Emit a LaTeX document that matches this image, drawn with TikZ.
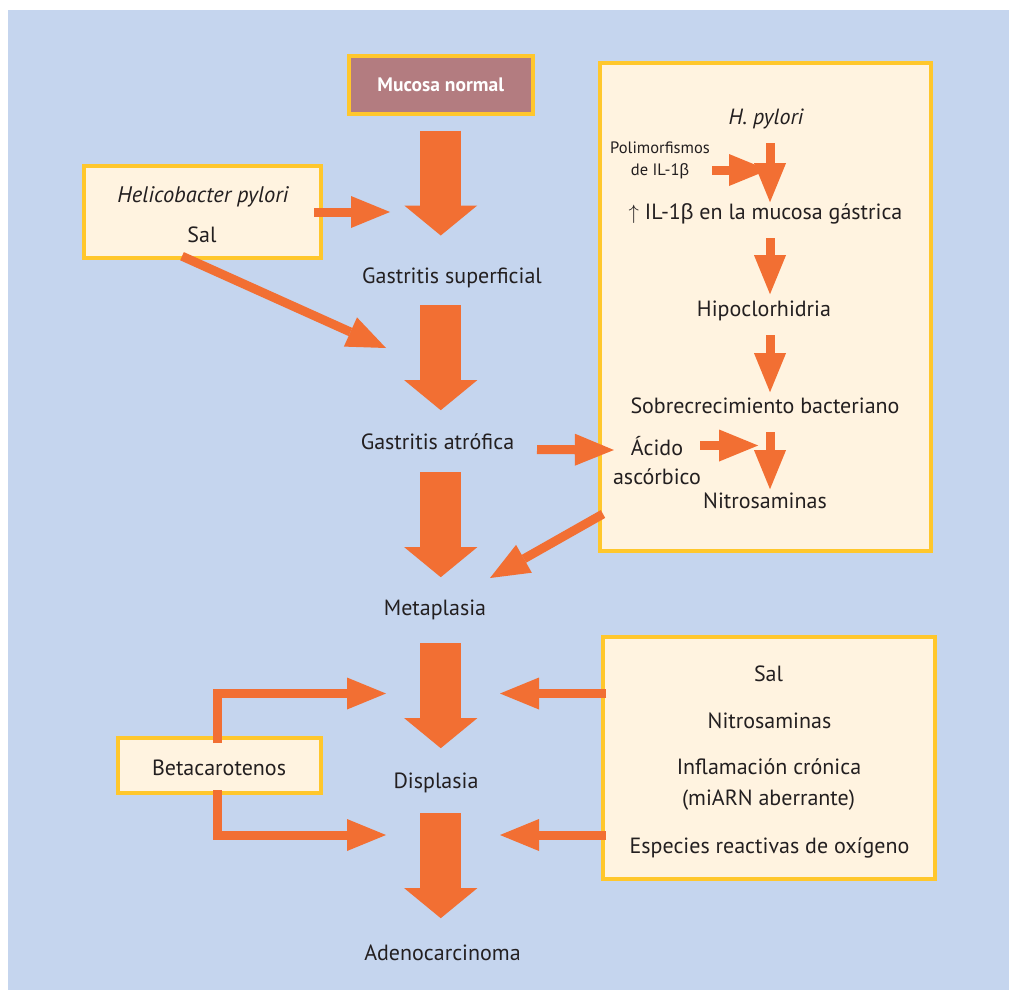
\documentclass[tikz,border=0pt]{standalone}
\usepackage{fontspec}
\setmainfont{PT Sans}
\newfontfamily\griega{Liberation Sans}
\usetikzlibrary{arrows.meta,calc}
\definecolor{fondo}{HTML}{C5D5EE}
\definecolor{naranja}{HTML}{F26F33}
\definecolor{amarillo}{HTML}{FFC72C}
\definecolor{crema}{HTML}{FFF3E0}
\definecolor{malva}{HTML}{B37C80}
\definecolor{texto}{HTML}{231F20}
\newcommand{\beb}{{\griega β}}
\tikzset{
  caja/.style={draw=amarillo,line width=4pt,fill=crema,inner sep=0pt},
  etiq/.style={text=texto,font=\fontsize{22}{29}\selectfont,inner sep=0pt,text height=17pt,text depth=5pt,anchor=base},
  flechagrande/.style={naranja,line width=41pt,-{Triangle[length=30pt,width=73pt,line width=0pt]}},
  flecha/.style={naranja,line width=9pt,-{Triangle[length=39pt,width=32pt,line width=0pt]}},
}
\begin{document}
\begin{tikzpicture}[x=1pt,y=-1pt]
 \useasboundingbox (0,0) rectangle (1011,990);
 \fill[fondo] (8,10) rectangle (1009,990);
 % columna central
 \node[caja,fill=malva,minimum width=184.5pt,minimum height=57pt,text=white,font=\bfseries\fontsize{19.5}{22}\selectfont] (mucosa) at (440.75,85) {Mucosa normal};
 \node[etiq] (gsup)  at (452,283)   {Gastritis superficial};
 \node[etiq] (gatr)  at (437.5,449) {Gastritis atrófica};
 \node[etiq] (meta)  at (435,615)   {Metaplasia};
 \node[etiq] (disp)  at (436,788)   {Displasia};
 \node[etiq] (adeno) at (442.5,960) {Adenocarcinoma};
 \draw[flechagrande] ($(mucosa.south)+(0,15)$) -- ++(0,105);
 \draw[flechagrande] ($(gsup.south -| mucosa)+(0,17)$) -- ++(0,105);
 \draw[flechagrande] ($(gatr.south -| mucosa)+(0,18)$) -- ++(0,105);
 \draw[flechagrande] ($(meta.south -| mucosa)+(0,23)$) -- ++(0,105);
 \draw[flechagrande] ($(disp.south -| mucosa)+(0,20)$) -- ++(0,105);
 % caja izquierda
 \node[caja,minimum width=237pt,minimum height=92pt] (hel) at (202.5,212) {};
 \node[etiq,font=\itshape\fontsize{22.5}{29}\selectfont] (helpy) at (203,202) {Helicobacter pylori};
 \node[etiq] (sal) at (202,242) {Sal};
 \coordinate (gatrIn) at (386,348);
 \draw[flecha] ([xshift=-9pt]hel.east) -- ++(76,0);
 \draw[flecha] ($(sal.south)+(-20,9)$) -- (gatrIn);
 % caja H. pylori
 \node[caja,minimum width=331pt,minimum height=488pt] (hpbox) at (765.5,307) {};
 \coordinate (ejeder) at (770,0);
 \node[etiq,font=\itshape\fontsize{22}{29}\selectfont] (hpy) at (766,124) {H. pylori};
 \node[text=texto,font=\fontsize{16.5}{22}\selectfont,align=center,inner sep=0pt] (poli) at (660,160) {Polimorfismos\\de IL-1\beb};
 \node[etiq] (il)    at (765.5,219) {$\uparrow$ IL-1\beb{} en la mucosa gástrica};
 \node[etiq] (hipo)  at (764,316)   {Hipoclorhidria};
 \node[etiq] (sobre) at (765,413)   {Sobrecrecimiento bacteriano};
 \node[text=texto,font=\fontsize{22}{29}\selectfont,align=center,inner sep=0pt] (acido) at (657,461) {Ácido\\ascórbico};
 \node[etiq] (nitro) at (765,508)   {Nitrosaminas};
 \draw[flecha] ($(hpy.south -| ejeder)+(0,14)$) -- ++(0,59);
 \draw[flecha] ($(il.south -| ejeder)+(0,14)$) -- ++(0,56);
 \draw[flecha] ($(hipo.south -| ejeder)+(0,14)$) -- ++(0,57);
 \draw[flecha] ($(sobre.south -| ejeder)+(0,14)$) -- ++(0,57);
 \draw[flecha] ($(poli.east)+(2,10)$) -- ++(56,0);
 \draw[flecha] ($(acido.east)+(-1,-15.5)$) -- ++(58,0);
 \draw[flecha] ($(gatr.base)+(99.5,0.5)$) -- ($(acido.west)+(1,-11)$);
 \draw[flecha] ($(hpbox.south west)+(5,-39)$) -- ++(-113,64);
 % caja de riesgo
 \node[caja,minimum width=332pt,minimum height=242pt] (riesgo) at (769,758) {};
 \node[etiq] (rsal)  at (768.5,681) {Sal};
 \node[etiq] (rnit)  at (769.5,728) {Nitrosaminas};
 \node[etiq] (rinf)  at (769,774)   {Inflamación crónica};
 \node[etiq] (rmia)  at (768.5,805) {(miARN aberrante)};
 \node[etiq] (resp)  at (769.5,853) {Especies reactivas de oxígeno};
 \coordinate (derA) at (500,693.5);
 \coordinate (derB) at (500,835);
 \draw[flecha] ($(riesgo.west |- derA)+(5,0)$) -- (derA);
 \draw[flecha] ($(riesgo.west |- derB)+(5,0)$) -- (derB);
 % betacarotenos
 \node[caja,minimum width=203pt,minimum height=55pt] (beta) at (219.5,765.5) {};
 \node[etiq] (betat) at (219,775) {Betacarotenos};
 \coordinate (izqA) at (386,693.5);
 \coordinate (izqB) at (386,835);
 \draw[flecha] ($(beta.north)+(-2,7)$) |- (izqA);
 \draw[flecha] ($(beta.south)+(-2,-5)$) |- (izqB);
\end{tikzpicture}
\end{document}
